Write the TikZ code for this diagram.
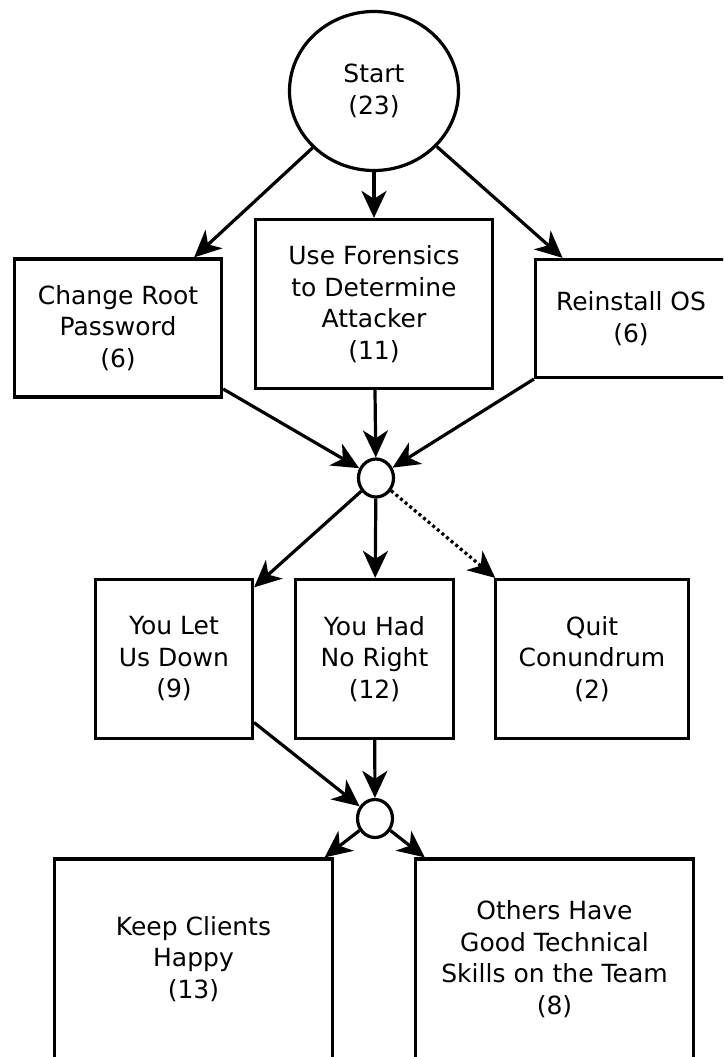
\documentclass[tikz,border=0pt]{standalone}
\usepackage{fontspec}
\setmainfont{DejaVu Sans}
\usetikzlibrary{arrows.meta,shapes.geometric}
\begin{document}
\begin{tikzpicture}[x=1pt,y=-1pt,
  box/.style={draw, line width=3.2pt, rectangle, align=center, inner sep=0pt,
    font=\fontsize{25}{31.5}\selectfont},
  startnode/.style={draw, line width=3.2pt, ellipse, align=center, inner sep=0pt,
    font=\fontsize{25}{31.5}\selectfont},
  junc/.style={draw, line width=3.2pt, ellipse, inner sep=0pt},
  conn/.style={line width=3.2pt, -{Stealth[length=27pt,width=25pt,inset=8pt]}},
  dotconn/.style={conn, dash pattern=on 3pt off 3pt}]
\useasboundingbox (0,0) rectangle (723,1057);
\clip (0,0) rectangle (723,1057);

\node[startnode, minimum width=169pt, minimum height=159pt] (start) at (374,91) {Start\\(23)};

\node[box, minimum width=207pt, minimum height=138pt] (root) at (118,328) {Change Root\\Password\\(6)};
\node[box, minimum width=237pt, minimum height=169pt] (foren) at (374,304) {Use Forensics\\to Determine\\Attacker\\(11)};
\node[box, minimum width=191pt, minimum height=118pt] (reinst) at (631,318.5) {Reinstall OS\\(6)};

\node[junc, minimum width=35pt, minimum height=38pt] (j1) at (376,478) {};

\node[box, minimum width=157pt, minimum height=159pt] (letdown) at (174,659) {You Let\\Us Down\\(9)};
\node[box, minimum width=158pt, minimum height=159pt] (noright) at (374.5,659) {You Had\\No Right\\(12)};
\node[box, minimum width=193pt, minimum height=159pt] (quit) at (592,659) {Quit\\Conundrum\\(2)};

\node[junc, minimum width=35pt, minimum height=38pt] (j2) at (375,818.5) {};

\node[box, minimum width=278pt, minimum height=200pt] (keep) at (193.5,959) {Keep Clients\\Happy\\(13)};
\node[box, minimum width=278pt, minimum height=200pt] (others) at (554.5,959) {Others Have\\Good Technical\\Skills on the Team\\(8)};

\draw[conn] (start) -- (root);
\draw[conn] (start) -- (foren);
\draw[conn] (start) -- (reinst);
\draw[conn] (root) -- (j1);
\draw[conn] (foren) -- (j1);
\draw[conn] (reinst) -- (j1);
\draw[conn] (j1) -- (letdown);
\draw[conn] (j1) -- (noright);
\draw[dotconn] (j1) -- (quit);
\draw[conn] (letdown) -- (j2);
\draw[conn] (noright) -- (j2);
\draw[conn] (j2) -- (keep);
\draw[conn] (j2) -- (others);
\end{tikzpicture}
\end{document}
